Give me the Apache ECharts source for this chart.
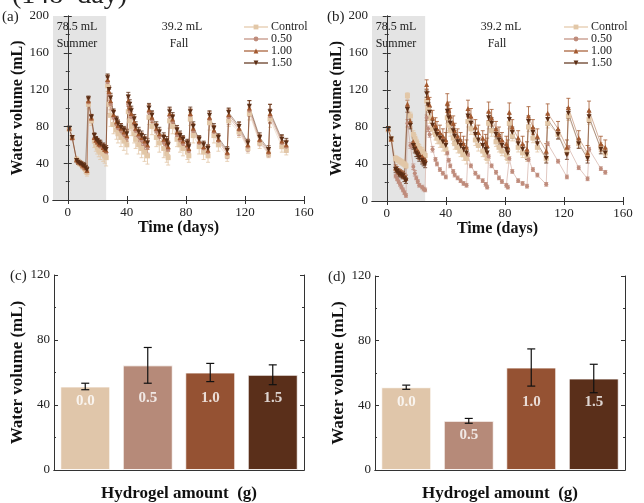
<!DOCTYPE html>
<html>
<head>
<meta charset="utf-8">
<script src="https://cdn.jsdelivr.net/npm/echarts@6/dist/echarts.min.js"></script>
<style>html,body{margin:0;padding:0;background:#fff}#main{width:644px;height:503px}</style>
</head>
<body>
<div id="main"></div>
<script>
// measurement days (summer then fall)
const days = [1, 3, 6, 7, 8, 9, 10, 11, 12, 13, 14, 16, 18, 19, 20, 21, 22, 24, 25, 26,
  27, 28, 29, 31, 33, 34, 36, 38, 40, 41, 42, 43, 45, 46, 48, 50, 52, 54,
  55, 57, 60, 62, 65, 67, 68, 69, 71, 74, 76, 78, 81, 82, 83, 85, 89, 92, 95,
  96, 99, 102, 108, 109, 116, 122, 123, 130, 136, 137, 145, 148];
const names = ['Control', '0.50', '1.00', '1.50'];
const xTicks = [0, 40, 80, 120, 160];

// panel (a)
const aCtl = [77, 68, 44, 42, 40, 39, 37, 36, 33, 30, 104, 86, 64, 60, 57, 54, 52, 50, 48, 46,
  124, 104, 92, 82, 76, 72, 68, 64, 60, 96, 86, 80, 72, 66, 60, 56, 52, 48, 90, 80, 68, 62, 56, 50, 46,
  86, 80, 66, 60, 56, 52, 48, 88, 70, 58, 52, 48, 84, 70, 60, 48, 86, 74, 56, 94, 62, 50, 88, 58, 54];
const a050 = [77, 67, 43, 41, 40, 39, 37, 36, 34, 31, 106, 88, 67, 64, 62, 60, 58, 56, 54, 52,
  128, 114, 104, 90, 82, 78, 75, 71, 67, 104, 96, 90, 82, 75, 69, 65, 61, 57, 95, 87, 75, 69, 63, 59, 55,
  91, 85, 71, 65, 61, 57, 53, 92, 75, 62, 56, 52, 88, 74, 64, 50, 90, 76, 58, 97, 64, 51, 91, 62, 58];
const a100 = [78, 68, 44, 42, 41, 40, 38, 37, 35, 32, 108, 89, 68, 65, 63, 61, 60, 57, 55, 54,
  131, 118, 108, 93, 85, 81, 78, 74, 70, 108, 100, 94, 85, 78, 72, 68, 64, 60, 98, 90, 78, 72, 66, 62, 58,
  94, 88, 74, 68, 64, 60, 56, 94, 78, 64, 58, 54, 90, 76, 66, 52, 93, 78, 60, 100, 66, 53, 94, 64, 60];
const a150 = [78, 68, 43, 41, 40, 39, 38, 37, 35, 33, 110, 90, 70, 66, 64, 62, 61, 58, 56, 55,
  133, 120, 111, 95, 87, 83, 79, 76, 72, 112, 104, 97, 88, 80, 74, 70, 66, 62, 100, 92, 80, 74, 68, 64, 60,
  96, 90, 76, 70, 66, 62, 58, 96, 80, 66, 60, 56, 92, 78, 68, 54, 95, 80, 62, 102, 68, 55, 96, 66, 62];
const aCtlErr = [2, 2, 3, 3, 3, 3, 3, 4, 4, 4, 5, 5, 7, 7, 7, 7, 8, 8, 8, 9,
  6, 10, 12, 10, 10, 10, 10, 10, 10, 8, 10, 10, 10, 10, 10, 10, 10, 9, 8, 9, 10, 10, 10, 9, 8,
  8, 8, 8, 8, 8, 8, 7, 7, 8, 8, 8, 7, 8, 8, 7, 6, 6, 6, 5, 7, 6, 4, 9, 6, 5];
const a050Err = [2, 2, 2, 2, 2, 2, 3, 3, 3, 3, 4, 4, 4, 4, 4, 4, 4, 5, 5, 5,
  5, 6, 6, 6, 5, 5, 5, 5, 6, 7, 6, 6, 6, 6, 6, 6, 6, 6, 7, 6, 6, 6, 6, 6, 6,
  6, 6, 6, 6, 6, 6, 5, 6, 6, 5, 5, 5, 6, 6, 5, 5, 8, 6, 5, 6, 5, 4, 8, 6, 6];
const a100Err = [2, 2, 2, 2, 2, 2, 3, 3, 3, 3, 3, 4, 4, 4, 4, 4, 4, 4, 4, 5,
  5, 5, 6, 5, 5, 5, 5, 5, 6, 6, 6, 6, 6, 5, 5, 5, 5, 5, 6, 6, 5, 5, 5, 5, 5,
  6, 5, 5, 5, 5, 5, 5, 5, 5, 5, 5, 5, 6, 5, 5, 4, 6, 6, 5, 8, 5, 4, 10, 6, 5];
const a150Err = [2, 2, 2, 2, 2, 2, 2, 3, 3, 3, 3, 3, 3, 3, 3, 3, 4, 4, 4, 4,
  4, 4, 5, 4, 4, 4, 4, 4, 5, 5, 5, 5, 5, 5, 5, 5, 5, 5, 5, 5, 5, 5, 5, 5, 4,
  5, 5, 5, 5, 4, 4, 4, 5, 5, 4, 4, 4, 5, 5, 4, 4, 5, 5, 4, 6, 5, 4, 8, 5, 5];

// panel (b)
const bCtl = [77, 67, 46, 45, 44, 43, 42, 41, 40, 38, 114, 92, 72, 68, 64, 60, 57, 54, 51, 49,
  108, 100, 90, 78, 72, 68, 64, 60, 56, 90, 82, 76, 68, 62, 58, 54, 50, 46, 86, 78, 66, 60, 54, 50, 46,
  84, 76, 64, 58, 54, 50, 46, 84, 70, 58, 52, 48, 80, 68, 58, 46, 84, 72, 54, 92, 62, 50, 88, 58, 52];
const b050 = [77, 67, 27, 24, 21, 18, 15, 12, 9, 6, 84, 60, 37, 30, 25, 21, 17, 15, 13, 12,
  90, 78, 72, 56, 45, 40, 34, 30, 26, 52, 44, 38, 32, 28, 25, 22, 19, 17, 50, 38, 30, 26, 22, 18, 15,
  48, 38, 31, 25, 21, 17, 15, 46, 32, 22, 19, 16, 45, 34, 28, 18, 62, 43, 26, 58, 36, 24, 56, 35, 31];
const b100 = [78, 67, 36, 34, 32, 31, 30, 29, 27, 25, 105, 86, 64, 60, 57, 54, 51, 48, 46, 45,
  126, 112, 104, 90, 82, 78, 74, 70, 66, 106, 98, 92, 84, 76, 70, 66, 62, 58, 100, 92, 80, 74, 68, 64, 60,
  97, 90, 78, 72, 66, 62, 58, 96, 80, 68, 62, 56, 92, 80, 70, 54, 95, 78, 58, 101, 68, 52, 98, 62, 58];
const b150 = [78, 67, 34, 32, 30, 29, 28, 27, 24, 22, 99, 82, 60, 56, 52, 50, 47, 44, 42, 40,
  116, 104, 96, 82, 76, 72, 68, 64, 60, 97, 90, 84, 76, 70, 64, 60, 56, 52, 92, 84, 72, 66, 60, 56, 52,
  90, 84, 72, 66, 60, 56, 52, 88, 74, 62, 56, 50, 86, 74, 62, 46, 88, 72, 50, 95, 62, 46, 91, 56, 52];
const bCtlErr = [2, 2, 3, 3, 3, 3, 3, 3, 3, 3, 3, 4, 4, 4, 4, 4, 4, 4, 4, 4,
  5, 5, 6, 6, 6, 6, 6, 6, 6, 6, 6, 6, 6, 6, 6, 6, 6, 6, 6, 6, 6, 6, 6, 5, 5,
  6, 6, 5, 5, 5, 5, 5, 6, 5, 5, 5, 5, 5, 5, 5, 4, 5, 5, 4, 5, 5, 4, 5, 5, 4];
const b050Err = [2, 2, 2, 2, 2, 2, 2, 2, 2, 2, 4, 3, 3, 3, 2, 2, 2, 2, 2, 2,
  3, 3, 3, 3, 2, 2, 2, 2, 2, 2, 2, 2, 2, 2, 2, 2, 2, 2, 2, 2, 2, 2, 2, 2, 2,
  2, 2, 2, 2, 2, 2, 2, 2, 2, 2, 2, 2, 2, 2, 2, 2, 2, 2, 2, 2, 2, 2, 2, 2, 2];
const b100Err = [2, 2, 3, 3, 3, 3, 3, 3, 3, 3, 4, 6, 6, 6, 6, 6, 6, 6, 6, 6,
  5, 6, 8, 8, 8, 8, 8, 8, 8, 10, 9, 8, 8, 8, 8, 8, 8, 8, 9, 8, 8, 8, 8, 8, 8,
  10, 9, 8, 8, 8, 8, 8, 10, 8, 8, 8, 8, 10, 8, 8, 8, 10, 8, 8, 10, 8, 8, 10, 8, 8];
const b150Err = [2, 2, 3, 3, 3, 3, 3, 3, 3, 3, 3, 4, 4, 4, 4, 4, 4, 4, 4, 4,
  4, 4, 5, 5, 5, 5, 5, 5, 5, 6, 6, 6, 6, 6, 6, 6, 6, 6, 6, 6, 6, 6, 6, 6, 5,
  6, 6, 6, 6, 5, 5, 5, 6, 6, 5, 5, 5, 6, 5, 5, 5, 6, 5, 5, 6, 5, 5, 6, 5, 5];

// panels (c) and (d): mean water volume per hydrogel amount
const barCats = ['0.0', '0.5', '1.0', '1.5'];
const cMean = [51.4, 64.4, 60, 58.6];
const cErr = [2, 11, 5.6, 6.1];
const dMean = [51.2, 30.4, 63.4, 56.6];
const dErr = [1.3, 1.5, 11.5, 8.8];

const summerEnd = 26;
const font = 'Liberation Serif, Times New Roman, serif';
const colors = ['#E2C7A7', '#BF8C7C', '#A3592F', '#5C2E15'];
const barColors = ['#E0C6AA', '#B68A79', '#955233', '#5A2F1A'];
const symbols = ['rect', 'circle', 'triangle', 'triangle'];

let myChart = echarts.init(document.getElementById('main'), null, { renderer: 'canvas' });

function errItem(params, api) {
  const x = api.value(0);
  const lo = api.coord([x, api.value(1)]);
  const hi = api.coord([x, api.value(2)]);
  const w = params.seriesName.indexOf('bar') === 0 ? 4 : 2;
  const st = { stroke: api.visual('color'), lineWidth: w === 4 ? 1.2 : 0.8, fill: null };
  return {
    type: 'group', children: [
      { type: 'line', shape: { x1: lo[0], y1: lo[1], x2: hi[0], y2: hi[1] }, style: st },
      { type: 'line', shape: { x1: lo[0] - w, y1: lo[1], x2: lo[0] + w, y2: lo[1] }, style: st },
      { type: 'line', shape: { x1: hi[0] - w, y1: hi[1], x2: hi[0] + w, y2: hi[1] }, style: st }
    ]
  };
}

const series = [];
function addTimePanel(p, vals, errs) {
  // summer shading
  series.push({
    type: 'line', name: 'shade' + p, xAxisIndex: p, yAxisIndex: p, data: [], z: 1, silent: true,
    markArea: { silent: true, itemStyle: { color: '#E4E4E4' }, data: [[{ xAxis: -10 }, { xAxis: summerEnd }]] }
  });
  vals.forEach((v, k) => {
    series.push({
      type: 'custom', name: 'err' + p + k, xAxisIndex: p, yAxisIndex: p, renderItem: errItem,
      itemStyle: { color: colors[k] }, silent: true, z: 2, encode: { x: 0, y: [1, 2] },
      data: days.map((d, i) => [d, v[i] - errs[k][i], v[i] + errs[k][i]])
    });
  });
  vals.forEach((v, k) => {
    series.push({
      type: 'line', name: names[k], xAxisIndex: p, yAxisIndex: p, z: 3,
      data: days.map((d, i) => [d, v[i]]),
      symbol: symbols[k], symbolSize: k === 1 ? 4 : 5, symbolRotate: k === 3 ? 180 : 0,
      itemStyle: { color: colors[k] }, lineStyle: { width: 0.8, opacity: 0.6 }
    });
  });
}
addTimePanel(0, [aCtl, a050, a100, a150], [aCtlErr, a050Err, a100Err, a150Err]);
addTimePanel(1, [bCtl, b050, b100, b150], [bCtlErr, b050Err, b100Err, b150Err]);

function addBarPanel(p, mean, err, labelAt) {
  series.push({
    type: 'bar', name: 'bars' + p, xAxisIndex: p, yAxisIndex: p, barWidth: '80%',
    data: mean.map((m, i) => ({ value: m, itemStyle: { color: barColors[i] } })),
    itemStyle: { borderColor: 'rgba(255,255,255,0.8)', borderWidth: 1 }
  });
  series.push({
    type: 'custom', name: 'barerr' + p, xAxisIndex: p, yAxisIndex: p, renderItem: errItem,
    itemStyle: { color: '#111' }, z: 4, silent: true, encode: { x: 0, y: [1, 2] },
    data: mean.map((m, i) => [i, m - err[i], m + err[i]])
  });
  // white labels inside the bars, at a common level unless the bar is short
  series.push({
    type: 'scatter', name: 'barlbl' + p, xAxisIndex: p, yAxisIndex: p, symbolSize: 0, z: 5, silent: true,
    data: mean.map((m, i) => [i, Math.min(m - 9, labelAt)]),
    label: {
      show: true, position: 'inside', formatter: (o) => barCats[o.dataIndex],
      color: '#fff', fontFamily: font, fontWeight: 'bold', fontSize: 15
    }
  });
}
addBarPanel(2, cMean, cErr, 44);
addBarPanel(3, dMean, dErr, 42);

const grids = [
  { left: 53, top: 16, width: 251, height: 184 },
  { left: 372, top: 16, width: 251, height: 185 },
  { left: 54, top: 275, width: 250, height: 200 },
  { left: 375, top: 276, width: 250, height: 200 }
];

const axLine = { show: true, lineStyle: { color: '#333', width: 1 } };
const lbl = { fontFamily: font, fontSize: 13, color: '#222' };
const nameStyle = { fontFamily: font, fontWeight: 'bold', color: '#111' };

const xAxis = [], yAxis = [];
[0, 1].forEach((p) => {
  xAxis.push({
    type: 'value', gridIndex: p, min: -10, max: 160, z: 5, axisLine: { ...axLine, onZero: false },
    axisTick: { inside: true, length: 4, customValues: xTicks, lineStyle: { color: '#333' } },
    axisLabel: { ...lbl, customValues: xTicks, margin: 6 }, splitLine: { show: false },
    name: 'Time (days)', nameLocation: 'middle', nameGap: 18, nameTextStyle: { ...nameStyle, fontSize: 16 }
  });
});
[2, 3].forEach((p) => {
  xAxis.push({
    type: 'category', gridIndex: p, data: barCats, z: 5, axisLine: axLine,
    axisTick: { show: false }, axisLabel: { show: false },
    name: 'Hydrogel amount  (g)', nameLocation: 'middle', nameGap: 15, nameTextStyle: { ...nameStyle, fontSize: 17 }
  });
});
// top frame
[0, 1].forEach((p) => {
  xAxis.push({
    type: 'value', gridIndex: p, position: 'top', min: -10, max: 160, z: 5, axisLine: axLine,
    axisTick: { inside: true, length: 4, customValues: xTicks, lineStyle: { color: '#333' } },
    axisLabel: { show: false }, splitLine: { show: false }
  });
});
[2, 3].forEach((p) => {
  xAxis.push({
    type: 'value', gridIndex: p, position: 'top', min: 0, max: 1, z: 5, axisLine: axLine,
    axisTick: { show: false }, axisLabel: { show: false }, splitLine: { show: false }
  });
});
[0, 1, 2, 3].forEach((p) => {
  const top = p < 2 ? 200 : 120;
  yAxis.push({
    type: 'value', gridIndex: p, min: 0, max: top, interval: 40, z: 5, axisLine: axLine,
    axisTick: { inside: true, length: 4, lineStyle: { color: '#333' } },
    minorTick: { show: true, splitNumber: 2, length: 2, lineStyle: { color: '#333' } },
    axisLabel: { ...lbl, margin: 4 }, splitLine: { show: false },
    name: 'Water volume (mL)', nameLocation: 'middle', nameGap: 25,
    nameTextStyle: { ...nameStyle, fontSize: p < 2 ? 16 : 17 }
  });
});
[0, 1, 2, 3].forEach((p) => {
  const top = p < 2 ? 200 : 120;
  yAxis.push({
    type: 'value', gridIndex: p, position: 'right', min: 0, max: top, interval: 40, z: 5, axisLine: axLine,
    axisTick: { inside: true, length: 4, lineStyle: { color: '#333' } },
    minorTick: { show: true, splitNumber: 2, length: 2, lineStyle: { color: '#333' } },
    axisLabel: { show: false }, splitLine: { show: false }
  });
});

const legendBase = {
  data: names, orient: 'vertical', top: 21, padding: 0, itemWidth: 24, itemHeight: 6, itemGap: 0,
  textStyle: { fontFamily: font, fontSize: 12, color: '#222', padding: [0, 0, 0, -2] }, selectedMode: false
};

function txt(x, y, s, size, align) {
  return {
    type: 'text', x: x, y: y, silent: true, z: 100,
    style: { text: s, fontFamily: font, fontSize: size, fill: '#222', align: align || 'center', verticalAlign: 'middle' }
  };
}

const option = {
  animation: false,
  backgroundColor: '#fff',
  grid: grids,
  xAxis: xAxis,
  yAxis: yAxis,
  legend: [{ ...legendBase, left: 243 }, { ...legendBase, left: 563 }],
  graphic: [
    txt(12, -4, '(148  day)', 28, 'left'),
    txt(2, 17, '(a)', 15, 'left'),
    txt(327, 17, '(b)', 15, 'left'),
    txt(10, 276, '(c)', 15, 'left'),
    txt(328, 277, '(d)', 15, 'left'),
    txt(77, 27, '78.5 mL', 12), txt(77, 44, 'Summer', 12),
    txt(182, 27, '39.2 mL', 12), txt(179, 44, 'Fall', 12),
    txt(396, 27, '78.5 mL', 12), txt(396, 44, 'Summer', 12),
    txt(501, 27, '39.2 mL', 12), txt(497, 44, 'Fall', 12)
  ],
  series: series
};
option && myChart.setOption(option);
</script>
</body>
</html>
